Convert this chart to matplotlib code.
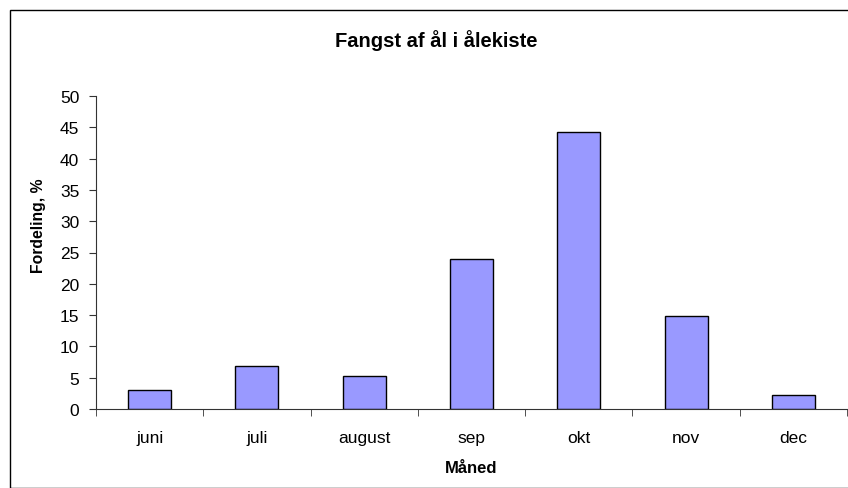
import numpy as np
import matplotlib.pyplot as plt
from matplotlib.patches import Rectangle

plt.rcParams['font.family'] = ['Liberation Sans', 'DejaVu Sans']

months = ['juni', 'juli', 'august', 'sep', 'okt', 'nov', 'dec']
share = [3.0, 6.8, 5.3, 24.0, 44.2, 14.8, 2.3]

W, H = 848, 489
fig = plt.figure(figsize=(W / 100, H / 100), dpi=100)

# outer chart border (right/bottom run off the picture)
fig.patches.append(Rectangle((10 / W, 0), 1.0, 1 - 11 / H, transform=fig.transFigure,
                             fill=False, edgecolor='black', linewidth=1.0))

ax = fig.add_axes([96 / W, 1 - 410 / H, (847 - 96) / W, (410 - 97) / H])
x = np.arange(len(months))
ax.bar(x, share, width=0.4, color='#9999ff', edgecolor='black', linewidth=1.0)

ax.set_xlim(-0.5, len(months) - 0.5)
ax.set_ylim(0, 50)
ax.set_yticks(range(0, 51, 5))
ax.set_xticks(x)
ax.set_xticklabels(months, fontsize=12.5)
ax.set_xticks(np.arange(-0.5, len(months)), minor=True)
ax.tick_params(axis='x', which='major', length=0, pad=15)
ax.tick_params(axis='x', which='minor', length=5, direction='out', color='#333333')
ax.tick_params(axis='y', length=5, direction='out', labelsize=12.5, pad=7, color='#333333')

for s in ['top', 'right']:
    ax.spines[s].set_visible(False)
ax.spines['left'].set_color('#333333')
ax.spines['bottom'].set_color('#333333')

fig.text(436 / W, 1 - 47 / H, 'Fangst af ål i ålekiste', ha='center', va='baseline',
         fontsize=14.5, fontweight='bold')
fig.text(471 / W, 1 - 473 / H, 'Måned', ha='center', va='baseline',
         fontsize=12, fontweight='bold')
fig.text(38 / W, 1 - 226 / H, 'Fordeling, %', ha='center', va='center', rotation=90,
         fontsize=11.3, fontweight='bold')

fig.savefig('out.png', dpi=100)
